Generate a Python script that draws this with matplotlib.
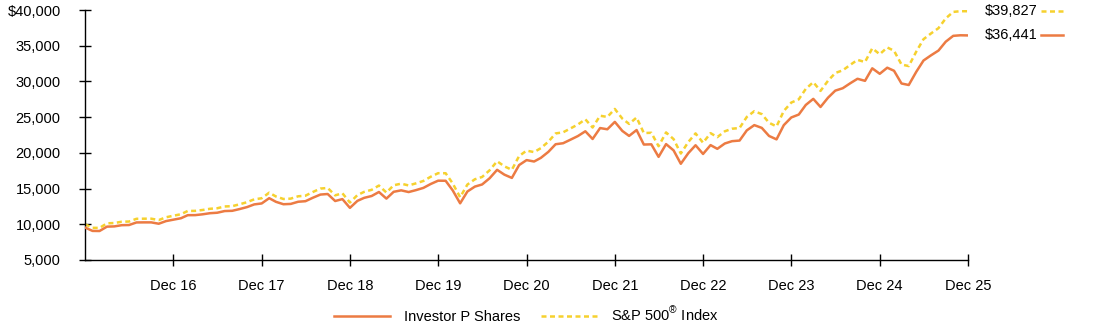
import numpy as np
import pandas as pd
import matplotlib
matplotlib.use('Agg')
import matplotlib.pyplot as plt
import matplotlib.transforms as mtransforms
from matplotlib.lines import Line2D

plt.rcParams['font.family'] = ['Liberation Sans', 'DejaVu Sans']
plt.rcParams['mathtext.fontset'] = 'custom'
plt.rcParams['mathtext.rm'] = 'Liberation Sans'

# Month-end values of a $10,000 investment, Dec 2015 - Dec 2025
dates = pd.date_range('2015-12-31', '2025-12-31', freq='ME')

fund = [
    9550,
    9073, 9058, 9670, 9703, 9874, 9896, 10258, 10268, 10267, 10077, 10446, 10648,
    10847, 11274, 11283, 11395, 11551, 11618, 11853, 11886, 12126, 12404, 12781, 12918,
    13654, 13145, 12807, 12850, 13156, 13232, 13720, 14162, 14238, 13259, 13525, 12299,
    13279, 13701, 13961, 14521, 13595, 14547, 14752, 14514, 14780, 15095, 15637, 16104,
    16092, 14762, 12935, 14588, 15277, 15575, 16448, 17624, 16949, 16492, 18292, 18987,
    18789, 19301, 20139, 21207, 21348, 21837, 22349, 23020, 21943, 23472, 23301, 24337,
    23071, 22373, 23194, 21164, 21195, 19440, 21225, 20351, 18471, 19959, 21067, 19847,
    21086, 20564, 21311, 21636, 21722, 23149, 23883, 23495, 22366, 21889, 23879, 24954,
    25364, 26708, 27559, 26425, 27725, 28711, 29050, 29746, 30372, 30084, 31838, 31070,
    31922, 31496, 29712, 29500, 31344, 32927, 33652, 34323, 35563, 36383, 36460, 36441,
]

index = [
    10000,
    9504, 9492, 10136, 10175, 10358, 10385, 10768, 10783, 10785, 10589, 10981, 11198,
    11411, 11864, 11878, 12000, 12169, 12244, 12496, 12535, 12793, 13091, 13493, 13643,
    14425, 13893, 13540, 13591, 13919, 14005, 14526, 15000, 15085, 14053, 14340, 13045,
    14090, 14542, 14824, 15424, 14445, 15463, 15686, 15438, 15727, 16068, 16651, 17154,
    17147, 15736, 13793, 15561, 16302, 16626, 17564, 18827, 18112, 17630, 19561, 20312,
    20107, 20662, 21567, 22719, 22878, 23411, 23968, 24697, 23549, 25200, 25026, 26147,
    24795, 24054, 24946, 22771, 22812, 20930, 22860, 21927, 19908, 21520, 22723, 21414,
    22759, 22204, 23019, 23378, 23479, 25031, 25834, 25423, 24210, 23702, 25866, 27040,
    27494, 28962, 29895, 28675, 30097, 31178, 31558, 32325, 33017, 32716, 34636, 33812,
    34752, 34300, 32369, 32149, 34171, 35910, 36714, 37459, 38826, 39735, 39834, 39827,
]

fund_label = 'Investor P Shares'
index_label = r'S&P 500$^{\circledR}$ Index'

orange = '#EC7B43'
yellow = '#F6D12E'
dash = (0, (2.0, 1.4))

fig = plt.figure(figsize=(10.94, 3.27), dpi=100)
ax = fig.add_axes([0.0777, 0.2049, 0.8071, 0.7645])

ax.plot(dates, fund, color=orange, lw=1.8, label=fund_label, zorder=3)
ax.plot(dates, index, color=yellow, lw=1.8, ls=dash, label=index_label, zorder=2)

ax.set_xlim(dates[0], dates[-1])
ax.set_ylim(5000, 40000)
ax.set_yticks(np.arange(5000, 40001, 5000))
ax.set_yticklabels([f'{v:,}' if v < 40000 else f'${v:,}' for v in range(5000, 40001, 5000)])
ax.set_xticks(dates[12::12])
ax.set_xticklabels([d.strftime('Dec %y') for d in dates[12::12]])

for side in ['top', 'right']:
    ax.spines[side].set_visible(False)
for side in ['left', 'bottom']:
    ax.spines[side].set_linewidth(1.0)
ax.tick_params(axis='both', direction='inout', length=8, width=1.0,
               labelsize=10.5, colors='black')
ax.tick_params(axis='y', pad=13.5)
ax.tick_params(axis='x', pad=10)

# ending values at the right edge, with a short line sample
blend = mtransforms.blended_transform_factory(fig.transFigure, ax.transData)
for val, col, ls in [(index[-1], yellow, dash), (fund[-1], orange, '-')]:
    ax.annotate(f'${val:,}', xy=(1, val), xycoords=('axes fraction', 'data'),
                xytext=(12, 0), textcoords='offset points',
                ha='left', va='center', fontsize=10.5)
    ax.add_line(Line2D([0.9516, 0.9717], [val, val], transform=blend,
                       color=col, lw=1.8, ls=ls, clip_on=False))

ax.legend(loc='center', bbox_to_anchor=(0.5, -0.22), ncol=2, frameon=False,
          fontsize=10.5, handlelength=3.8, handletextpad=1.0, columnspacing=1.4)

fig.savefig('out.png', dpi=100)
